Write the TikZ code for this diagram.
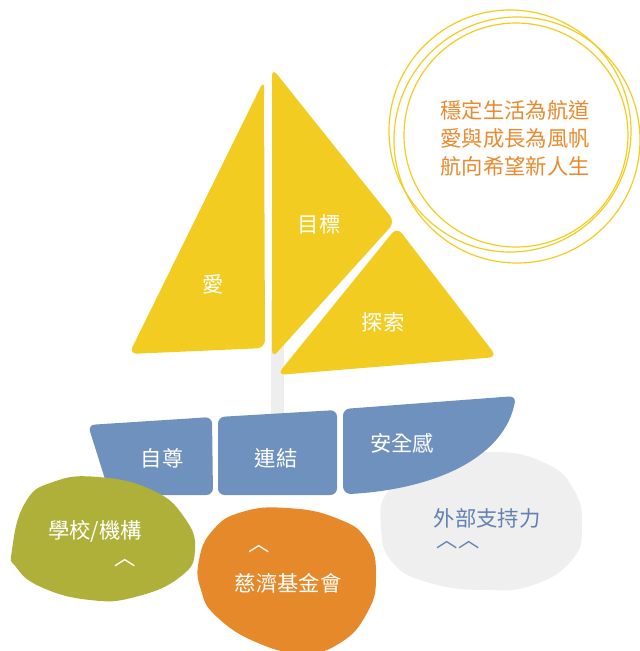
\documentclass[tikz,border=0pt]{standalone}
\usepackage{fontspec}
\newfontfamily\cjk{Noto Sans CJK TC}
\definecolor{sailyellow}{HTML}{F3CC22}
\definecolor{hullblue}{HTML}{6F91BD}
\definecolor{mastgray}{HTML}{EEEEEE}
\definecolor{blobgreen}{HTML}{AFB03A}
\definecolor{bloborange}{HTML}{E6892B}
\definecolor{blobgray}{HTML}{EFEFEF}
\definecolor{supportblue}{HTML}{6281B1}
\definecolor{mottoorange}{HTML}{E98A2E}

\begin{document}
\begin{tikzpicture}[x=0.75pt,y=-0.75pt,
  whitetext/.style={text=white, font=\cjk\fontsize{16}{20}\selectfont},
  ring/.style={draw=sailyellow, line width=0.9pt}]
\useasboundingbox (0,0) rectangle (640,651);

% rings round the motto
\draw [ring] (510,131) circle [radius=121];
\draw [ring] (517,140) circle [radius=123];
\draw [ring] (516,135) circle [radius=112];

\node (motto) [align=center, text=mottoorange, font=\cjk\fontsize{16}{21}\selectfont] at (515,138)
  {穩定生活為航道\\愛與成長為風帆\\航向希望新人生};

% mast
\fill [mastgray] (271,300) rectangle (284,415);

% left sail
\fill [sailyellow, rounded corners=6] (264,80) -- (265,348) -- (129,354) -- cycle;
% middle sail
\fill [sailyellow, rounded corners=6] (272,68) -- (395,222) -- (272,358) -- cycle;
% right sail
\fill [sailyellow, rounded corners=6] (397,227) -- (277,375) -- (497,357) -- cycle;

\node (love) [whitetext] at (213,284) {愛};
\node (goal) [whitetext] at (319,224) {目標};
\node (explore) [whitetext] at (383,322) {探索};

% gray blob (behind hull)
\fill [blobgray] plot [smooth cycle, tension=0.8] coordinates {(381,527) (389,490) (430,463) (492,452) (545,463) (574,490) (582,527) (572,560) (533,585) (484,590) (430,583) (393,563)};

% hull
\fill [hullblue, rounded corners=5] (88,425) -- (212,417) -- (213,495) -- (110,495) -- cycle;
\fill [hullblue, rounded corners=5] (218,417) -- (337,410) -- (337,495) -- (218,495) -- cycle;
\fill [hullblue] [rounded corners=5] (350,494) -- (343,493) -- (343,409) -- (516,396) [sharp corners] .. controls (505,455) and (440,489) .. (350,494) -- cycle;

\node (esteem) [whitetext] at (162,458) {自尊};
\node (bond) [whitetext] at (276,458) {連結};
\node (safety) [whitetext] at (402,443) {安全感};

% green blob
\fill [blobgreen] plot [smooth cycle, tension=0.8] coordinates {(12,550) (25,503) (53,482) (98,477) (152,490) (184,517) (195,550) (180,577) (135,597) (90,600) (41,587) (16,567)};
% orange blob
\fill [bloborange] plot [smooth cycle, tension=0.8] coordinates {(199,560) (213,530) (242,512) (287,508) (336,518) (367,540) (376,577) (367,613) (340,643) (303,653) (258,643) (217,617) (201,590)};

\node (school) [whitetext] at (95,531) {學校/機構};
\node (schoolmark) [whitetext] at (125,563) {︿};
\node (tzuchi) [whitetext] at (288,583) {慈濟基金會};
\node (tzuchimark) [whitetext] at (259,549) {︿};
\node (support) [text=supportblue, font=\cjk\fontsize{16}{20}\selectfont] at (487,518) {外部支持力};
\node (supportmark) [text=supportblue, font=\cjk\fontsize{16}{20}\selectfont, inner sep=0pt] at (458,545) {︿︿};

\end{tikzpicture}
\end{document}
